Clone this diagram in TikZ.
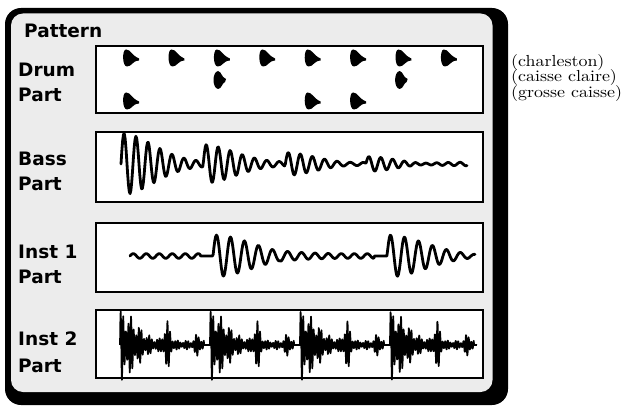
\documentclass[tikz,border=0pt]{standalone}
\usepackage{fontspec}
\newfontfamily\labfont{DejaVu Sans}
\newfontfamily\notefont{lmroman10-regular}[Extension=.otf, FakeStretch=1.12]
\definecolor{panelgray}{HTML}{ECECEC}
\tikzset{
  lab/.style={font=\labfont\bfseries\fontsize{18.5}{18.5}\selectfont, anchor=base west, inner sep=0pt},
  note/.style={font=\notefont\fontsize{16}{15}\selectfont, anchor=base west, inner sep=0pt, text height=10pt, text depth=3.5pt},
  partbox/.style={draw=black, fill=white, line width=2.6pt},
  wave/.style={line width=2.8pt, line join=round, line cap=round},
  noisewave/.style={line width=1.7pt, line join=round},
  hitA/.pic={\fill (3,-8.5) .. controls (8,-8.5) and (8,-3) .. (16,0.5) -- (16,2.5) .. controls (9,3) and (9,8.5) .. (4,8.5) .. controls (-1,8.5) and (-1,-8.5) .. (3,-8.5) -- cycle;},
  hitB/.pic={\fill (5,-9) .. controls (9,-8) and (8,-3) .. (13,-1) -- (12,2) .. controls (9,3) and (9,8.5) .. (5,9) .. controls (-1,8) and (-1,-8) .. (5,-9) -- cycle;}
}
\begin{document}
\begin{tikzpicture}[x=1pt,y=-1pt,
  declare function={
    bb(\x,\s,\A,\T,\P)=\A*exp(-min((max(\x-\s,0)/\T)^2,9))*sin((max(\x-\s,0)/\P)*360);
    gs(\u,\c,\w)=exp(-min(((\u-\c)/\w)^2,9));
    nz(\u)=(31*gs(\u,0,22)+20*gs(\u,47,4.5)+8*gs(\u,78,3.5)+4.5*(\u<84))*sin((\u/2.6)*360)*(0.7+0.3*sin((\u/9.3)*360+30));
  }]
\useasboundingbox (0,0) rectangle (628,406);
% panel with heavy frame
\fill[black, rounded corners=16pt] (5,8) rectangle (508,405);
\fill[panelgray, rounded corners=12pt] (11,13.5) rectangle (492.5,392);
% part boxes
\draw[partbox] (96,46) rectangle (483,113);
\draw[partbox] (96,132) rectangle (483,202);
\draw[partbox] (96,223) rectangle (483,292);
\draw[partbox] (96,310) rectangle (483,378);
% labels
\node[lab] (pattern) at (24,38) {Pattern};
\node[lab] (drum1) at (18,77) {Drum};
\node[lab] (drum2) at (18,102) {Part};
\node[lab] (bass1) at (18,165) {Bass};
\node[lab] (bass2) at (18,190) {Part};
\node[lab] (inst1a) at (18,258) {Inst 1};
\node[lab] (inst1b) at (18,283) {Part};
\node[lab] (inst2a) at (18,345) {Inst 2};
\node[lab] (inst2b) at (18,372) {Part};
% notes
\node[note] (hh) at (511,66.5) {(charleston)};
\node[note] (sn) at (511,82) {(caisse claire)};
\node[note] (bd) at (511,97.5) {(grosse caisse)};
% drum hits
\foreach \i in {0,...,7} { \pic at ({123+45.4*\i},58) {hitA}; }
\foreach \i in {2,6} { \pic at ({213+45.4*(\i-2)},80) {hitB}; }
\foreach \i in {0,4,5} { \pic at ({123+45.4*\i},101) {hitA}; }
% bass waveform
\draw[wave] plot[domain=121:467, samples=420, variable=\x]
  (\x, {164 - bb(\x,121,29,45,12) - bb(\x,203,18,45,12) - bb(\x,285,12,45,12) - bb(\x,366,9,45,12) - 1.8*sin(((\x-121)/12)*360)});
% inst 1 waveform
\draw[wave] plot[domain=130:475, samples=420, variable=\x]
  (\x, {256 - bb(\x,213,21,55,14) - bb(\x,387,21,55,14) - 2.3*((\x<200)+(\x>280)*(\x<374))*sin(((\x-130)/13)*360)});
% inst 2 waveform
\draw[noisewave] plot[domain=120:477, samples=1100, variable=\x]
  (\x, {345 - nz(mod(\x-120,90))});
\end{tikzpicture}
\end{document}
